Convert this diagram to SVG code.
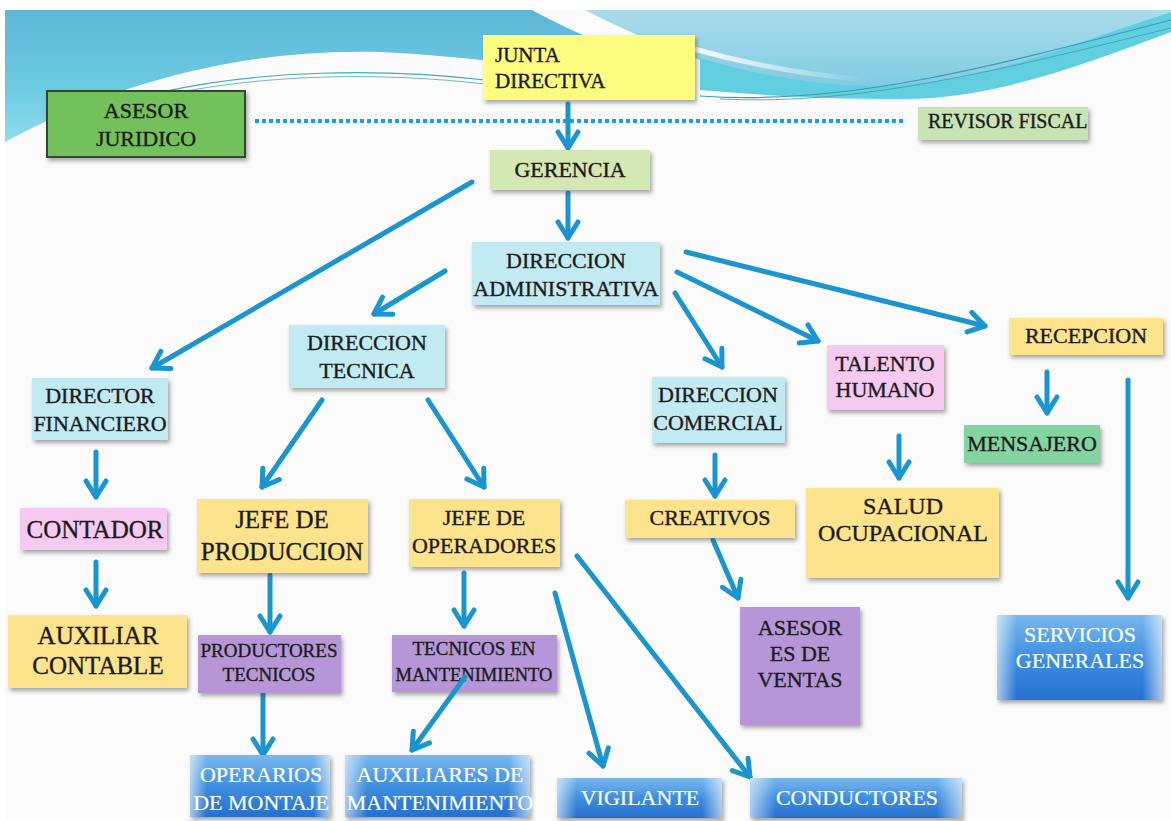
<svg xmlns="http://www.w3.org/2000/svg" width="1171" height="821" viewBox="0 0 1171 821">
<defs>
<linearGradient id="gLeft" x1="0" y1="0" x2="0" y2="1">
<stop offset="0" stop-color="#5db6d6"/><stop offset="0.6" stop-color="#6ccbe2"/><stop offset="1" stop-color="#8fdcec"/>
</linearGradient>
<linearGradient id="gRight" x1="0" y1="0" x2="0" y2="1">
<stop offset="0" stop-color="#aadcea"/><stop offset="1" stop-color="#80cbe2"/>
</linearGradient>
<linearGradient id="gBlue" x1="0" y1="0" x2="0" y2="1">
<stop offset="0" stop-color="#7ab8ee"/><stop offset="0.5" stop-color="#3f8fe0"/><stop offset="1" stop-color="#2570d0"/>
</linearGradient>
<linearGradient id="gEdge" x1="0" y1="0" x2="1" y2="0">
<stop offset="0" stop-color="#ffffff" stop-opacity="0.6"/><stop offset="0.12" stop-color="#ffffff" stop-opacity="0"/>
<stop offset="0.88" stop-color="#ffffff" stop-opacity="0"/><stop offset="1" stop-color="#ffffff" stop-opacity="0.6"/>
</linearGradient>
<linearGradient id="gSwoosh" x1="690" y1="0" x2="870" y2="0" gradientUnits="userSpaceOnUse">
<stop offset="0" stop-color="#ffffff" stop-opacity="0.95"/><stop offset="1" stop-color="#ffffff" stop-opacity="0"/>
</linearGradient>
<filter id="sh" x="-10%" y="-10%" width="125%" height="135%">
<feDropShadow dx="2" dy="3" stdDeviation="2" flood-color="#404040" flood-opacity="0.45"/>
</filter>
<marker id="ah" markerUnits="userSpaceOnUse" markerWidth="26" markerHeight="26" viewBox="0 0 26 26" refX="21" refY="13" orient="auto">
<path d="M5,3 L21,13 L5,23" fill="none" stroke="#1b95d0" stroke-width="5" stroke-linecap="round" stroke-linejoin="round"/>
</marker>
<style>
.t{font-family:"Liberation Serif","Times New Roman",serif;font-size:22px;fill:#1c1c1c;stroke:#1c1c1c;stroke-width:0.35px;text-anchor:middle}
.w{fill:#ffffff;stroke:#ffffff;stroke-width:0.2px}
.box{filter:url(#sh)}
.yel{fill:#fde38c}
.cy{fill:#c2eaf2}
.pk{fill:#f5c9f0}
.pu{fill:#b796d8}
.bl{fill:url(#gBlue)}
.ed{fill:url(#gEdge)}
.c{stroke:#1b95d0;stroke-width:5;fill:none;stroke-linecap:round;marker-end:url(#ah)}
</style>
</defs>
<rect width="1171" height="821" fill="#ffffff"/>
<rect x="5" y="10" width="1166" height="811" fill="#fbfbfb"/>
<!-- background waves -->
<path d="M5,10 H532 C565,28 610,48 650,62 L650,80 C560,70 470,56 380,52 C250,48 120,80 5,142 Z" fill="url(#gLeft)"/>
<path d="M585,10 H1171 V12 C1080,40 980,88 880,88 C800,88 740,72 700,60 C660,46 620,28 585,10 Z" fill="url(#gRight)"/>
<path d="M700,58 C760,76 820,86 880,86 C980,86 1080,40 1171,12 V32 C1080,66 990,100 900,99 C820,99 760,95 700,90 Z" fill="#62cfe0"/>
<path d="M690,48 C740,62 800,75 870,80" fill="none" stroke="url(#gSwoosh)" stroke-width="5" stroke-linecap="round"/>
<path d="M162,92 C260,70 380,68 485,80" fill="none" stroke="#4aa8b8" stroke-width="1.2"/>
<path d="M170,94 C270,74 380,72 485,84" fill="none" stroke="#4aa8b8" stroke-width="0.8"/>
<path d="M700,96 C840,106 980,70 1171,20" fill="none" stroke="#3b9ab0" stroke-width="1.2"/>
<path d="M720,99 C860,106 1000,70 1171,28" fill="none" stroke="#3b9ab0" stroke-width="0.8"/>
<!-- dotted relation -->
<line x1="255" y1="121" x2="905" y2="121" stroke="#1e9fd8" stroke-width="4" stroke-dasharray="4 3"/>
<g id="connectors">
<line class="c" x1="568" y1="104" x2="568" y2="148"/>
<line class="c" x1="568" y1="193" x2="568" y2="238"/>
<line class="c" x1="472" y1="182" x2="152" y2="368"/>
<line class="c" x1="445" y1="271" x2="374" y2="314"/>
<line class="c" x1="675" y1="293" x2="722" y2="367"/>
<line class="c" x1="677" y1="272" x2="818" y2="341"/>
<line class="c" x1="686" y1="252" x2="985" y2="326"/>
<line class="c" x1="96" y1="452" x2="96" y2="497"/>
<line class="c" x1="96" y1="562" x2="96" y2="606"/>
<line class="c" x1="322" y1="400" x2="262" y2="487"/>
<line class="c" x1="428" y1="400" x2="484" y2="487"/>
<line class="c" x1="270" y1="575" x2="270" y2="632"/>
<line class="c" x1="464" y1="573" x2="464" y2="626"/>
<line class="c" x1="263" y1="693" x2="263" y2="755"/>
<line class="c" x1="555" y1="593" x2="603" y2="766"/>
<line class="c" x1="577" y1="556" x2="750" y2="777"/>
<line class="c" x1="715" y1="455" x2="715" y2="496"/>
<line class="c" x1="713" y1="540" x2="738" y2="598"/>
<line class="c" x1="899" y1="436" x2="899" y2="478"/>
<line class="c" x1="1047" y1="372" x2="1047" y2="413"/>
<line class="c" x1="1128" y1="380" x2="1128" y2="598"/>
</g>
<g id="junta"><rect class="box" x="483" y="35" width="212" height="65" fill="#fdfd80"/>
<text class="t" x="495" y="62" style="text-anchor:start;font-size:21px">JUNTA</text><text class="t" x="495" y="88" style="text-anchor:start;font-size:21px">DIRECTIVA</text></g>
<g id="asesor-juridico"><rect class="box" x="47" y="91" width="198" height="66" fill="#72c15a" stroke="#344434" stroke-width="2"/>
<text class="t" x="146" y="118">ASESOR</text><text class="t" x="146" y="146">JURIDICO</text></g>
<g id="revisor"><rect class="box" x="918" y="107" width="170" height="33" fill="#c8e4b4"/>
<text class="t" x="928" y="128" style="text-anchor:start;font-size:20px">REVISOR FISCAL</text></g>
<g id="gerencia"><rect class="box" x="490" y="150" width="160" height="40" fill="#d3e8b2"/>
<text class="t" x="570" y="177">GERENCIA</text></g>
<g id="dir-admin"><rect class="box cy" x="472" y="242" width="188" height="63"/>
<text class="t" x="566" y="268">DIRECCION</text><text class="t" x="566" y="296">ADMINISTRATIVA</text></g>
<g id="dir-tecnica"><rect class="box cy" x="289" y="325" width="156" height="63"/>
<text class="t" x="367" y="350">DIRECCION</text><text class="t" x="367" y="378">TECNICA</text></g>
<g id="dir-financiero"><rect class="box cy" x="32" y="378" width="136" height="62"/>
<text class="t" x="100" y="403">DIRECTOR</text><text class="t" x="100" y="431">FINANCIERO</text></g>
<g id="contador"><rect class="box pk" x="20" y="508" width="147" height="42"/>
<text class="t" x="95" y="538" style="font-size:25px">CONTADOR</text></g>
<g id="auxiliar-contable"><rect class="box yel" x="8" y="615" width="179" height="73"/>
<text class="t" x="98" y="644" style="font-size:25px">AUXILIAR</text><text class="t" x="98" y="674" style="font-size:25px">CONTABLE</text></g>
<g id="jefe-produccion"><rect class="box yel" x="197" y="499" width="171" height="74"/>
<text class="t" x="282" y="528" style="font-size:25px">JEFE DE</text><text class="t" x="282" y="560" style="font-size:25px">PRODUCCION</text></g>
<g id="jefe-operadores"><rect class="box yel" x="409" y="499" width="151" height="68"/>
<text class="t" x="484" y="525">JEFE DE</text><text class="t" x="484" y="553">OPERADORES</text></g>
<g id="productores"><rect class="box pu" x="198" y="635" width="143" height="58"/>
<text class="t" x="269" y="657" style="font-size:19px">PRODUCTORES</text><text class="t" x="269" y="681" style="font-size:19px">TECNICOS</text></g>
<g id="tecnicos-mant"><rect class="box pu" x="392" y="635" width="165" height="57"/>
<text class="t" x="474" y="655" style="font-size:19px">TECNICOS EN</text><text class="t" x="474" y="681" style="font-size:18.5px">MANTENIMIENTO</text></g>
<line class="c" x1="465" y1="677" x2="412" y2="750"/>
<g id="dir-comercial"><rect class="box cy" x="652" y="377" width="133" height="66"/>
<text class="t" x="718" y="402">DIRECCION</text><text class="t" x="718" y="430">COMERCIAL</text></g>
<g id="creativos"><rect class="box yel" x="625" y="500" width="170" height="38"/>
<text class="t" x="710" y="525">CREATIVOS</text></g>
<g id="asesor-ventas"><rect class="box pu" x="740" y="607" width="120" height="118"/>
<text class="t" x="800" y="635">ASESOR</text><text class="t" x="800" y="661">ES DE</text><text class="t" x="800" y="687">VENTAS</text></g>
<g id="talento"><rect class="box pk" x="827" y="345" width="117" height="65"/>
<text class="t" x="885" y="371">TALENTO</text><text class="t" x="885" y="397">HUMANO</text></g>
<g id="salud"><rect class="box yel" x="806" y="488" width="193" height="90"/>
<text class="t" x="903" y="514" style="font-size:24px">SALUD</text><text class="t" x="903" y="541" style="font-size:24px">OCUPACIONAL</text></g>
<g id="recepcion"><rect class="box yel" x="1009" y="318" width="154" height="37"/>
<text class="t" x="1086" y="343">RECEPCION</text></g>
<g id="mensajero"><rect class="box" x="964" y="425" width="136" height="38" fill="#84d4a2"/>
<text class="t" x="1032" y="451">MENSAJERO</text></g>
<g id="servicios"><rect class="box bl" x="997" y="615" width="165" height="85"/><rect class="ed" x="997" y="615" width="165" height="85"/>
<text class="t w" x="1080" y="642">SERVICIOS</text><text class="t w" x="1080" y="668">GENERALES</text></g>
<g id="operarios"><rect class="box bl" x="190" y="755" width="140" height="62"/><rect class="ed" x="190" y="755" width="140" height="62"/>
<text class="t w" x="261" y="782">OPERARIOS</text><text class="t w" x="261" y="810">DE MONTAJE</text></g>
<g id="auxiliares-mant"><rect class="box bl" x="345" y="755" width="185" height="62"/><rect class="ed" x="345" y="755" width="185" height="62"/>
<text class="t w" x="440" y="782">AUXILIARES DE</text><text class="t w" x="440" y="810">MANTENIMIENTO</text></g>
<g id="vigilante"><rect class="box bl" x="557" y="778" width="165" height="40"/><rect class="ed" x="557" y="778" width="165" height="40"/>
<text class="t w" x="640" y="805">VIGILANTE</text></g>
<g id="conductores"><rect class="box bl" x="750" y="778" width="212" height="40"/><rect class="ed" x="750" y="778" width="212" height="40"/>
<text class="t w" x="857" y="805">CONDUCTORES</text></g>
</svg>
